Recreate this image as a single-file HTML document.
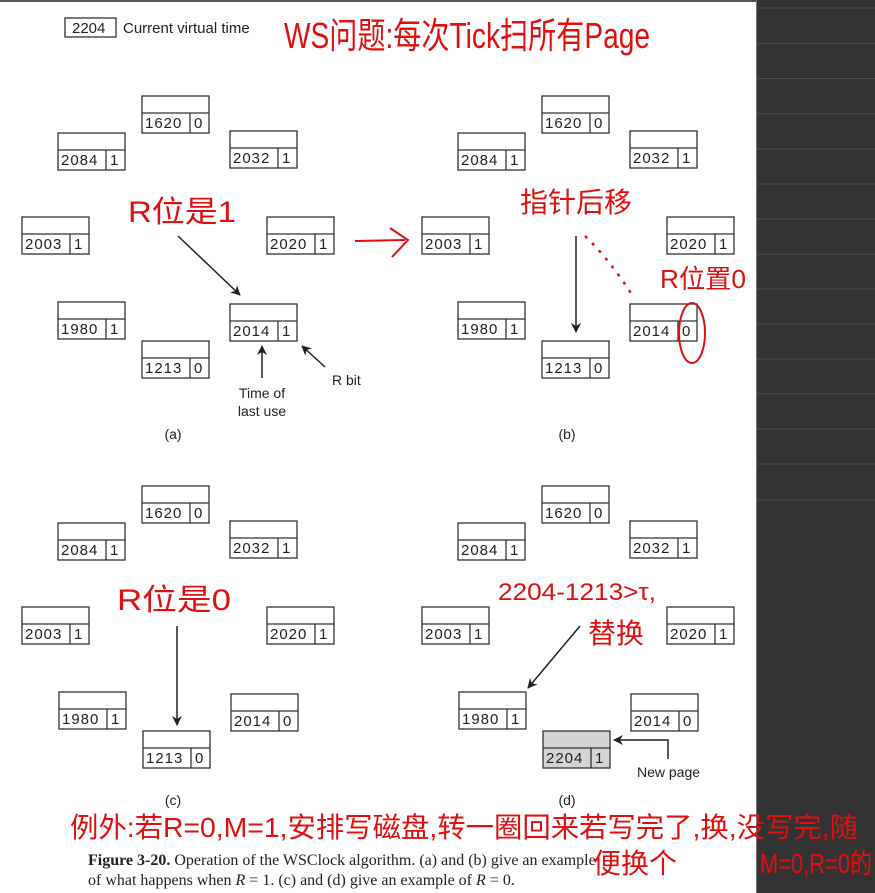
<!DOCTYPE html>
<html><head><meta charset="utf-8"><style>
html,body{margin:0;padding:0;background:#fff;}
svg{display:block;}
.n{font-family:"Liberation Sans",sans-serif;font-size:15px;fill:#222;letter-spacing:1px;}
.l{font-family:"Liberation Sans",sans-serif;font-size:14px;fill:#222;}
.r{font-family:"Liberation Sans","Noto Sans CJK SC",sans-serif;fill:#e01010;}
.c{font-family:"Liberation Serif",serif;font-size:16px;fill:#222;}
</style></head><body>
<svg width="875" height="893" viewBox="0 0 875 893" xmlns="http://www.w3.org/2000/svg">
<defs>
<marker id="ah" markerWidth="10" markerHeight="10" refX="9" refY="5" orient="auto" markerUnits="userSpaceOnUse"><path d="M0,0 L10,5 L0,10 L3,5 z" fill="#222"/></marker>
<g id="b"><rect x="0" y="0" width="67" height="37" fill="none" stroke="#333" stroke-width="1.3"/><line x1="0" y1="17" x2="67" y2="17" stroke="#333" stroke-width="1.3"/><line x1="48" y1="17" x2="48" y2="37" stroke="#333" stroke-width="1.3"/></g>
</defs>
<rect x="0" y="0" width="875" height="893" fill="#fff"/>
<rect x="0" y="0" width="756" height="2" fill="#555"/>
<rect x="756" y="0" width="119" height="893" fill="#333"/>
<line x1="756.5" y1="0" x2="756.5" y2="893" stroke="#777"/>
<g stroke="#4e4e4e" stroke-width="1">
<line x1="757" y1="8" x2="875" y2="8"/><line x1="757" y1="43.5" x2="875" y2="43.5"/><line x1="757" y1="78.5" x2="875" y2="78.5"/><line x1="757" y1="114" x2="875" y2="114"/><line x1="757" y1="149" x2="875" y2="149"/><line x1="757" y1="184" x2="875" y2="184"/><line x1="757" y1="219" x2="875" y2="219"/><line x1="757" y1="254" x2="875" y2="254"/><line x1="757" y1="289" x2="875" y2="289"/><line x1="757" y1="324" x2="875" y2="324"/><line x1="757" y1="359" x2="875" y2="359"/><line x1="757" y1="394" x2="875" y2="394"/><line x1="757" y1="429" x2="875" y2="429"/><line x1="757" y1="464" x2="875" y2="464"/><line x1="757" y1="500" x2="875" y2="500"/>
</g>

<rect x="65" y="18" width="51" height="19" fill="none" stroke="#333" stroke-width="1.3"/>
<text x="72" y="33" class="n" style="letter-spacing:0">2204</text>
<text x="123" y="33" class="l" style="font-size:15px">Current virtual time</text>

<g>
<use href="#b" x="142" y="96"/><text x="145" y="128" class="n">1620</text><text x="194" y="128" class="n">0</text>
<use href="#b" x="58" y="133"/><text x="61" y="165" class="n">2084</text><text x="110" y="165" class="n">1</text>
<use href="#b" x="230" y="131"/><text x="233" y="163" class="n">2032</text><text x="282" y="163" class="n">1</text>
<use href="#b" x="22" y="217"/><text x="25" y="249" class="n">2003</text><text x="74" y="249" class="n">1</text>
<use href="#b" x="267" y="217"/><text x="270" y="249" class="n">2020</text><text x="319" y="249" class="n">1</text>
<use href="#b" x="58" y="302"/><text x="61" y="334" class="n">1980</text><text x="110" y="334" class="n">1</text>
<use href="#b" x="230" y="304"/><text x="233" y="336" class="n">2014</text><text x="282" y="336" class="n">1</text>
<use href="#b" x="142" y="341"/><text x="145" y="373" class="n">1213</text><text x="194" y="373" class="n">0</text>
<line x1="178" y1="236" x2="240" y2="295" stroke="#222" stroke-width="1.5" marker-end="url(#ah)"/>
<line x1="262" y1="378" x2="262" y2="346" stroke="#222" stroke-width="1.5" marker-end="url(#ah)"/>
<line x1="325" y1="367" x2="302" y2="346" stroke="#222" stroke-width="1.5" marker-end="url(#ah)"/>
<text x="262" y="398" class="l" text-anchor="middle">Time of</text>
<text x="262" y="416" class="l" text-anchor="middle">last use</text>
<text x="332" y="385" class="l">R bit</text>
<text x="173" y="439" class="l" text-anchor="middle">(a)</text>
</g>

<g>
<use href="#b" x="542" y="96"/><text x="545" y="128" class="n">1620</text><text x="594" y="128" class="n">0</text>
<use href="#b" x="458" y="133"/><text x="461" y="165" class="n">2084</text><text x="510" y="165" class="n">1</text>
<use href="#b" x="630" y="131"/><text x="633" y="163" class="n">2032</text><text x="682" y="163" class="n">1</text>
<use href="#b" x="422" y="217"/><text x="425" y="249" class="n">2003</text><text x="474" y="249" class="n">1</text>
<use href="#b" x="667" y="217"/><text x="670" y="249" class="n">2020</text><text x="719" y="249" class="n">1</text>
<use href="#b" x="458" y="302"/><text x="461" y="334" class="n">1980</text><text x="510" y="334" class="n">1</text>
<use href="#b" x="630" y="304"/><text x="633" y="336" class="n">2014</text><text x="682" y="336" class="n">0</text>
<use href="#b" x="542" y="341"/><text x="545" y="373" class="n">1213</text><text x="594" y="373" class="n">0</text>
<line x1="576" y1="236" x2="576" y2="332" stroke="#222" stroke-width="1.5" marker-end="url(#ah)"/>
<text x="567" y="439" class="l" text-anchor="middle">(b)</text>
</g>

<g>
<use href="#b" x="142" y="486"/><text x="145" y="518" class="n">1620</text><text x="194" y="518" class="n">0</text>
<use href="#b" x="58" y="523"/><text x="61" y="555" class="n">2084</text><text x="110" y="555" class="n">1</text>
<use href="#b" x="230" y="521"/><text x="233" y="553" class="n">2032</text><text x="282" y="553" class="n">1</text>
<use href="#b" x="22" y="607"/><text x="25" y="639" class="n">2003</text><text x="74" y="639" class="n">1</text>
<use href="#b" x="267" y="607"/><text x="270" y="639" class="n">2020</text><text x="319" y="639" class="n">1</text>
<use href="#b" x="59" y="692"/><text x="62" y="724" class="n">1980</text><text x="111" y="724" class="n">1</text>
<use href="#b" x="231" y="694"/><text x="234" y="726" class="n">2014</text><text x="283" y="726" class="n">0</text>
<use href="#b" x="143" y="731"/><text x="146" y="763" class="n">1213</text><text x="195" y="763" class="n">0</text>
<line x1="177" y1="626" x2="177" y2="725" stroke="#222" stroke-width="1.5" marker-end="url(#ah)"/>
<text x="173" y="805" class="l" text-anchor="middle">(c)</text>
</g>

<g>
<use href="#b" x="542" y="486"/><text x="545" y="518" class="n">1620</text><text x="594" y="518" class="n">0</text>
<use href="#b" x="458" y="523"/><text x="461" y="555" class="n">2084</text><text x="510" y="555" class="n">1</text>
<use href="#b" x="630" y="521"/><text x="633" y="553" class="n">2032</text><text x="682" y="553" class="n">1</text>
<use href="#b" x="422" y="607"/><text x="425" y="639" class="n">2003</text><text x="474" y="639" class="n">1</text>
<use href="#b" x="667" y="607"/><text x="670" y="639" class="n">2020</text><text x="719" y="639" class="n">1</text>
<use href="#b" x="459" y="692"/><text x="462" y="724" class="n">1980</text><text x="511" y="724" class="n">1</text>
<use href="#b" x="631" y="694"/><text x="634" y="726" class="n">2014</text><text x="683" y="726" class="n">0</text>
<rect x="543" y="731" width="67" height="37" fill="#d4d4d4"/>
<use href="#b" x="543" y="731"/><text x="546" y="763" class="n">2204</text><text x="595" y="763" class="n">1</text>
<line x1="580" y1="626" x2="528" y2="688" stroke="#222" stroke-width="1.5" marker-end="url(#ah)"/>
<polyline points="668,759 668,740 614,740" fill="none" stroke="#222" stroke-width="1.5" marker-end="url(#ah)"/>
<text x="637" y="777" class="l">New page</text>
<text x="567" y="805" class="l" text-anchor="middle">(d)</text>
</g>

<text x="88" y="865" class="c"><tspan font-weight="bold">Figure 3-20.</tspan> Operation of the WSClock algorithm. (a) and (b) give an example</text>
<text x="88" y="885" class="c">of what happens when <tspan font-style="italic">R</tspan> = 1. (c) and (d) give an example of <tspan font-style="italic">R</tspan> = 0.</text>

<text x="284" y="48" class="r" style="font-size:36px" textLength="366" lengthAdjust="spacingAndGlyphs">WS问题:每次Tick扫所有Page</text>
<text x="128" y="222" class="r" style="font-size:30px" textLength="108" lengthAdjust="spacingAndGlyphs">R位是1</text>
<path d="M355,241 L405,240 M390,228 L408,240 L392,257" fill="none" stroke="#e01010" stroke-width="2"/>
<text x="520" y="212" class="r" style="font-size:28px" textLength="112" lengthAdjust="spacingAndGlyphs">指针后移</text>
<path d="M585,236 Q610,260 632,295" fill="none" stroke="#e01010" stroke-width="2.5" stroke-dasharray="3,7"/>
<text x="660" y="288" class="r" style="font-size:26px" textLength="86" lengthAdjust="spacingAndGlyphs">R位置0</text>
<ellipse cx="692" cy="333" rx="13" ry="30" fill="none" stroke="#e01010" stroke-width="2"/>
<text x="117" y="610" class="r" style="font-size:30px" textLength="114" lengthAdjust="spacingAndGlyphs">R位是0</text>
<text x="498" y="600" class="r" style="font-size:24px" textLength="158" lengthAdjust="spacingAndGlyphs">2204-1213&gt;τ,</text>
<text x="588" y="643" class="r" style="font-size:28px">替换</text>
<text x="70" y="837" class="r" style="font-size:28px" textLength="788" lengthAdjust="spacingAndGlyphs">例外:若R=0,M=1,安排写磁盘,转一圈回来若写完了,换,没写完,随</text>
<text x="593" y="873" class="r" style="font-size:28px">便换个</text>
<text x="760" y="873" class="r" style="font-size:28px" textLength="112" lengthAdjust="spacingAndGlyphs">M=0,R=0的</text>
</svg>
</body></html>
